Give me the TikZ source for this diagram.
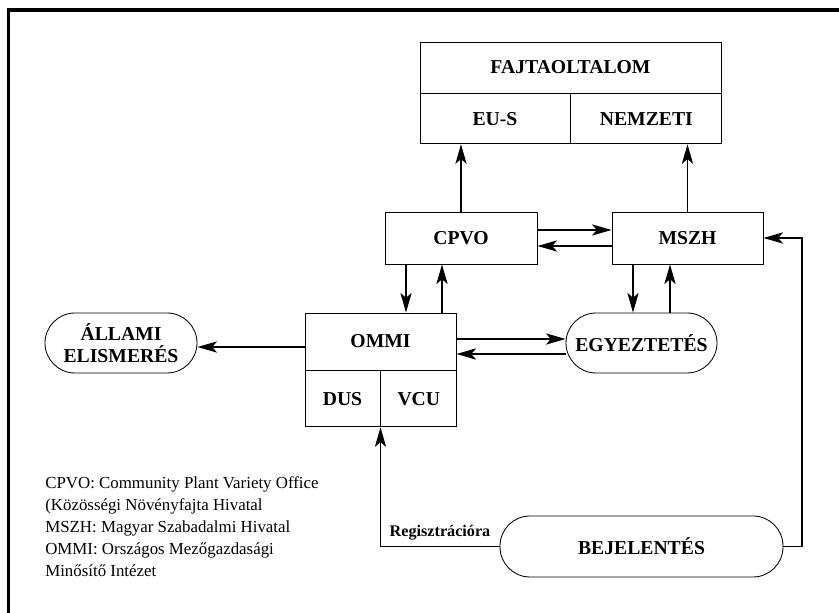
\documentclass[tikz,border=0pt]{standalone}
\usepackage{fontspec}
\setmainfont{Liberation Serif}
\usetikzlibrary{arrows.meta,positioning,calc}

\tikzset{
  box/.style={draw, line width=0.6pt, inner sep=0pt, minimum width=3.8cm, minimum height=1.3cm,
    font=\bfseries\fontsize{14}{16}\selectfont},
  pill/.style={box, rounded corners=0.75cm, minimum height=1.5cm, align=center},
  arr/.style={-{Stealth[length=14pt,width=8pt,inset=3.5pt]}, line width=0.8pt},
}

\begin{document}
\begin{tikzpicture}
\useasboundingbox (0,0) rectangle (20.975,15.325);
% frame
\draw[line width=2.2pt] (0.2125,-0.1) -- (0.2125,15.075) -- (21.1,15.075);
% plant variety protection
\node[box, minimum width=7.525cm, minimum height=1.275cm] (fajta) at (14.2625,13.6375) {FAJTAOLTALOM};
\node[box, anchor=north west, minimum width=3.75cm, minimum height=1.25cm] (eus) at (fajta.south west) {EU-S};
\node[box, anchor=north west, minimum width=3.775cm, minimum height=1.25cm] (nemzeti) at (eus.north east) {NEMZETI};
% offices
\node[box] (cpvo) at (11.525,9.375) {CPVO};
\node[box, minimum width=3.775cm] (mszh) at (17.1875,9.375) {MSZH};
\node[pill, minimum width=3.775cm] (egy) at (16.0375,6.75) {EGYEZTETÉS};
\node[box, minimum width=3.775cm, minimum height=1.425cm] (ommi) at (9.5125,6.7875) {OMMI};
\node[box, anchor=north west, minimum width=1.875cm, minimum height=1.4cm] (dus) at (ommi.south west) {DUS};
\node[box, anchor=north west, minimum width=1.9cm, minimum height=1.4cm] (vcu) at (dus.north east) {VCU};
\node[pill] (allami) at (3.025,6.75) {ÁLLAMI\\ELISMERÉS};
\node[pill, minimum width=7.075cm, minimum height=1.525cm] (bej) at (16.0375,1.6625) {BEJELENTÉS};
\coordinate (bejturn) at (20.05,1.6625);
\node[font=\bfseries\fontsize{11.5}{13}\selectfont] (reg) at (11.0,2.0) {Regisztrációra};
% legend
\node[anchor=north west, align=left, inner sep=0pt, font=\fontsize{12}{15.6}\selectfont] (legend) at (1.125,3.42)
  {CPVO: Community Plant Variety Office\\
   (Közösségi Növényfajta Hivatal\\
   MSZH: Magyar Szabadalmi Hivatal\\
   OMMI: Országos Mezőgazdasági\\
   Minősítő Intézet};
% connectors
\draw[arr] (cpvo.north) -- (cpvo.north |- eus.south);
\draw[arr] (mszh.north) -- (mszh.north |- nemzeti.south);
\draw[arr] ([yshift=0.2cm]cpvo.east) -- ([yshift=0.2cm]mszh.west);
\draw[arr] ([yshift=-0.2cm]mszh.west) -- ([yshift=-0.2cm]cpvo.east);
\draw[arr] ([xshift=-1.375cm]cpvo.south) -- ([xshift=-1.375cm]cpvo.south |- ommi.north);
\draw[arr] ([xshift=-0.475cm]cpvo.south |- ommi.north) -- ([xshift=-0.475cm]cpvo.south);
\draw[arr] ([xshift=-1.3625cm]mszh.south) -- ([xshift=-1.3625cm]mszh.south |- egy.north);
\draw[arr] ([xshift=-0.4375cm]mszh.south |- egy.north) -- ([xshift=-0.4375cm]mszh.south);
\draw[arr] ([yshift=0.0625cm]ommi.east) -- ([yshift=0.0625cm]ommi.east -| egy.west);
\draw[arr] ([yshift=-0.3125cm]ommi.east -| egy.west) -- ([yshift=-0.3125cm]ommi.east);
\draw[arr] ([yshift=-0.1375cm]ommi.west) -- ([yshift=-0.1375cm]ommi.west -| allami.east);
\draw[arr] (bej.west) -- (bej.west -| ommi.center) -- (ommi.center |- dus.south);
\draw[arr] (bej.east) -- (bejturn) -- (bejturn |- mszh.east) -- (mszh.east);
\end{tikzpicture}
\end{document}
